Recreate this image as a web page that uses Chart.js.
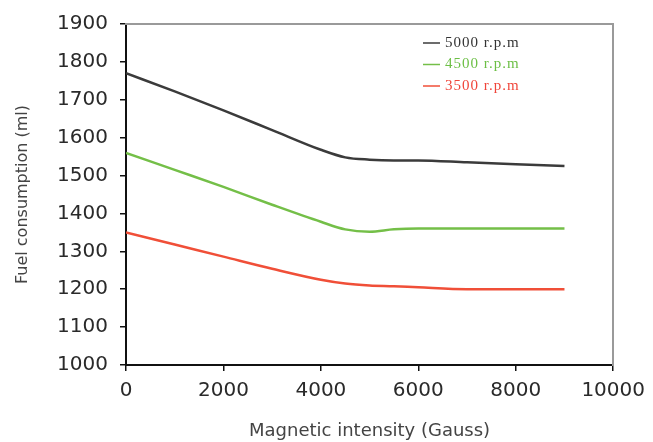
<!DOCTYPE html>
<html>
<head>
<meta charset="utf-8">
<script src="https://cdn.jsdelivr.net/npm/chart.js@4/dist/chart.umd.min.js"></script>
<style>
  html, body { margin: 0; padding: 0; background: #fff; }
  #wrap { width: 653px; height: 442px; }
</style>
</head>
<body>
<div id="wrap"><canvas id="myChart" width="653" height="442"></canvas></div>
<script>
// magnetic intensity (Gauss)
var xValues = [0, 1000, 2000, 3000, 4000, 4500, 5000, 5500, 6000, 7000, 8000, 9000];
// fuel consumption (ml)
var rpm5000 = [1770, 1722, 1672, 1620, 1568, 1548, 1542, 1540, 1540, 1535, 1530, 1525];
var rpm4500 = [1560, 1515, 1470, 1423, 1378, 1358, 1352, 1358, 1360, 1360, 1360, 1360];
var rpm3500 = [1350, 1318, 1286, 1254, 1225, 1215, 1210, 1208, 1205, 1200, 1200, 1200];
var seriesNames = ["5000 r.p.m", "4500 r.p.m", "3500 r.p.m"];
var xTicks = [0, 2000, 4000, 6000, 8000, 10000];
var yTicks = [1000, 1100, 1200, 1300, 1400, 1500, 1600, 1700, 1800, 1900];

var lineColors = ["#3b3b3b", "#74bf48", "#f04f38"];
var textColors = ["#333333", "#6cbf45", "#f0453a"];

function toPoints(ys) {
    return xValues.map(function (x, i) { return { x: x, y: ys[i] }; });
}

// legend sits inside the plot, top right, with coloured text
var insideLegend = {
    id: "insideLegend",
    afterDraw: function (chart) {
        var ctx = chart.ctx;
        var area = chart.chartArea;
        ctx.save();
        ctx.font = "15px 'Liberation Serif', 'Times New Roman', serif";
        ctx.letterSpacing = "1px";
        ctx.textBaseline = "middle";
        chart.data.datasets.forEach(function (ds, i) {
            var y = area.top + 19 + i * 21.5;
            var x0 = area.left + 297;
            ctx.strokeStyle = ds.borderColor;
            ctx.lineWidth = 1.5;
            ctx.beginPath();
            ctx.moveTo(x0, y);
            ctx.lineTo(x0 + 17, y);
            ctx.stroke();
            ctx.fillStyle = textColors[i];
            ctx.fillText(ds.label, x0 + 22, y);
        });
        ctx.restore();
    }
};

var tickFont = { family: "'DejaVu Sans', Verdana, sans-serif", size: 20 };
var plainNumber = function (v) { return String(v); };

new Chart("myChart", {
    type: "line",
    data: {
        datasets: [{
            label: seriesNames[0],
            data: toPoints(rpm5000),
            borderColor: lineColors[0],
            borderWidth: 2.5,
            pointRadius: 0,
            cubicInterpolationMode: "monotone",
            fill: false
        }, {
            label: seriesNames[1],
            data: toPoints(rpm4500),
            borderColor: lineColors[1],
            borderWidth: 2.5,
            pointRadius: 0,
            cubicInterpolationMode: "monotone",
            fill: false
        }, {
            label: seriesNames[2],
            data: toPoints(rpm3500),
            borderColor: lineColors[2],
            borderWidth: 2.5,
            pointRadius: 0,
            cubicInterpolationMode: "monotone",
            fill: false
        }]
    },
    options: {
        responsive: false,
        animation: false,
        layout: { padding: { left: 0, top: 17, right: 37, bottom: 0 } },
        plugins: {
            legend: { display: false },
            tooltip: { enabled: false }
        },
        scales: {
            x: {
                type: "linear",
                min: 0,
                max: 10000,
                afterBuildTicks: function (s) { s.ticks = xTicks.map(function (v) { return { value: v }; }); },
                afterFit: function (s) { s.height = 77; },
                ticks: { font: tickFont, color: "#2a2a2a", padding: 8, maxRotation: 0, callback: plainNumber },
                grid: { display: true, drawOnChartArea: false, drawTicks: true, tickLength: 6, color: "#111", lineWidth: 1.5 },
                border: { display: true, color: "#111", width: 2 },
                title: {
                    display: true,
                    text: "Magnetic intensity (Gauss)",
                    font: { family: "'DejaVu Sans', Verdana, sans-serif", size: 18 },
                    color: "#444",
                    padding: { top: 0, bottom: 0 }
                }
            },
            y: {
                min: 1000,
                max: 1900,
                afterBuildTicks: function (s) { s.ticks = yTicks.map(function (v) { return { value: v }; }); },
                afterFit: function (s) { s.width = 126; },
                ticks: { font: tickFont, color: "#2a2a2a", padding: 12, callback: plainNumber },
                grid: { display: true, drawOnChartArea: false, drawTicks: true, tickLength: 6, color: "#111", lineWidth: 1.5 },
                border: { display: true, color: "#111", width: 2 },
                title: {
                    display: true,
                    text: "Fuel consumption (ml)",
                    font: { family: "'DejaVu Sans', Verdana, sans-serif", size: 16 },
                    color: "#444",
                    padding: { top: 13, bottom: 0 }
                }
            },
            x2: {
                type: "linear",
                position: "top",
                min: 0,
                max: 10000,
                ticks: { display: false },
                grid: { display: false },
                border: { display: true, color: "#9a9a9a", width: 2 },
                afterFit: function (s) { s.height = 0; }
            },
            y2: {
                position: "right",
                min: 1000,
                max: 1900,
                ticks: { display: false },
                grid: { display: false },
                border: { display: true, color: "#9a9a9a", width: 2 },
                afterFit: function (s) { s.width = 0; }
            }
        }
    },
    plugins: [insideLegend]
});
</script>
</body>
</html>
